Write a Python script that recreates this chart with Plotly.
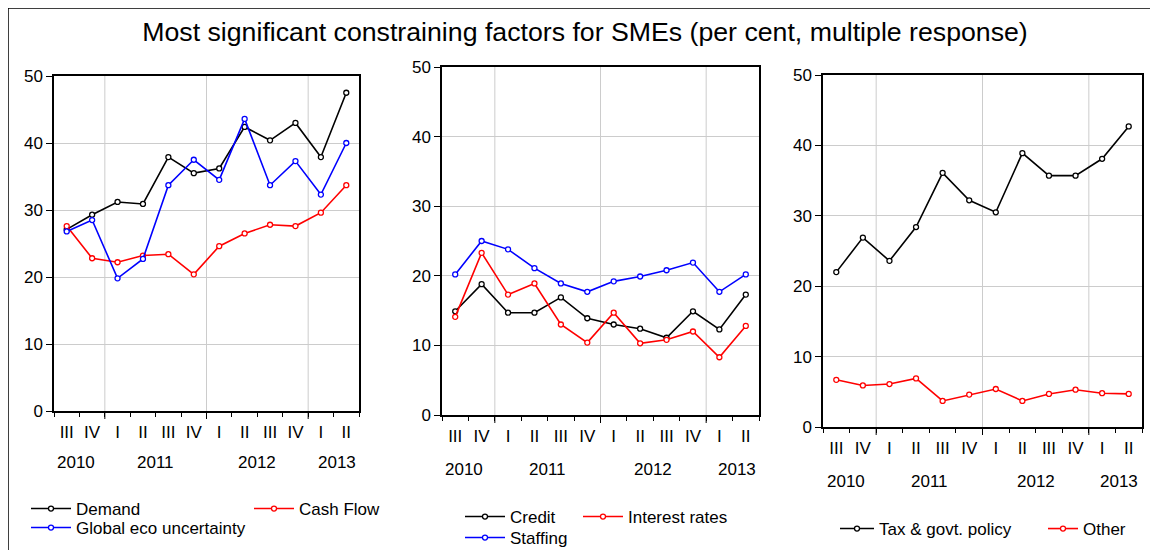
import plotly.graph_objects as go

QUARTERS = ["III", "IV", "I", "II", "III", "IV", "I", "II", "III", "IV", "I", "II"]
YEARS = ["2010", "2011", "2012", "2013"]
YEAR_POS = [0.35, 3.5, 7.5, 10.65]
YEAR_BREAKS = [1.5, 5.5, 9.5]

demand = [27.1, 29.3, 31.2, 30.9, 37.9, 35.5, 36.2, 42.4, 40.4, 43.0, 37.9, 47.5]
cash_flow = [27.6, 22.8, 22.2, 23.2, 23.4, 20.4, 24.6, 26.5, 27.8, 27.6, 29.6, 33.7]
global_eco = [26.8, 28.5, 19.8, 22.7, 33.7, 37.5, 34.5, 43.6, 33.7, 37.3, 32.3, 40.0]

credit = [14.9, 18.8, 14.7, 14.7, 16.9, 13.9, 13.0, 12.4, 11.1, 14.9, 12.3, 17.3]
interest_rates = [14.1, 23.3, 17.3, 18.9, 13.0, 10.4, 14.7, 10.3, 10.8, 12.0, 8.3, 12.8]
staffing = [20.2, 25.0, 23.8, 21.1, 18.9, 17.7, 19.2, 19.9, 20.8, 21.9, 17.7, 20.2]

tax_policy = [22.0, 26.9, 23.6, 28.4, 36.1, 32.2, 30.5, 38.9, 35.7, 35.7, 38.1, 42.7]
other = [6.7, 5.9, 6.1, 6.9, 3.7, 4.6, 5.4, 3.7, 4.7, 5.3, 4.8, 4.7]

# page body has an 8px margin, so the figure is sized to fit inside it
OFFSET = 8
W, H = 1158 - 2 * OFFSET, 550 - OFFSET
FONT = "Arial, Liberation Sans, sans-serif"
BLACK, RED, BLUE = "#000000", "#ff0000", "#0000ff"
GRID = "#cccccc"


def fx(sx):
    return (sx - OFFSET) / W


def fy(sy):
    return 1 - (sy - OFFSET) / H


# panel boxes in screen pixels: (left, right, top, bottom), plus label rows
PANELS = [(54, 359, 76, 411), (442, 759, 67, 415), (823, 1142, 75, 427)]
YEAR_ROW = [462, 469, 481]

# panel, name, values, colour, legend symbol position (screen px), symbol width
series = [
    (1, "Demand", demand, BLACK, (32, 509), 40),
    (1, "Cash Flow", cash_flow, RED, (255, 509), 40),
    (1, "Global eco uncertainty", global_eco, BLUE, (32, 528), 40),
    (2, "Credit", credit, BLACK, (466, 517), 40),
    (2, "Interest rates", interest_rates, RED, (584, 517), 40),
    (2, "Staffing", staffing, BLUE, (466, 538), 40),
    (3, "Tax & govt. policy", tax_policy, BLACK, (841, 529), 34),
    (3, "Other", other, RED, (1049, 529), 30),
]

fig = go.Figure()
x = list(range(len(QUARTERS)))
layout = {}
# one small legend per entry so each can sit exactly where the original has it
for n, (panel, name, vals, color, (lx, ly), iw) in enumerate(series, start=2):
    sfx = "" if panel == 1 else str(panel)
    leg = f"legend{n}"
    fig.add_trace(
        go.Scatter(
            x=x,
            y=vals,
            name=name,
            mode="lines+markers",
            line={"color": color, "width": 1.6},
            marker={"symbol": "circle", "size": 5, "color": "white",
                    "line": {"color": color, "width": 1.3}},
            xaxis="x" + sfx,
            yaxis="y" + sfx,
            legend=leg,
        )
    )
    layout[leg] = dict(orientation="h", xanchor="left", yanchor="middle",
                       x=fx(lx - 6), y=fy(ly), itemwidth=iw,
                       bgcolor="rgba(0,0,0,0)", font=dict(size=17, color=BLACK))

annotations = []
shapes = []
for i, (l, r, t, b) in enumerate(PANELS, start=1):
    sfx = "" if i == 1 else str(i)
    layout["xaxis" + sfx] = dict(
        domain=[fx(l), fx(r)], anchor="y" + sfx, range=[-0.5, 11.5],
        tickmode="array", tickvals=x, ticktext=QUARTERS, ticks="",
        ticklabelstandoff=5, tickfont=dict(size=17, color=BLACK),
        showgrid=False,
        minor=dict(tickmode="array", tickvals=[k - 0.5 for k in range(13)],
                   ticks="outside", ticklen=4, tickcolor=BLACK, showgrid=False),
        showline=True, linecolor=BLACK, linewidth=1.5, mirror=True, zeroline=False,
    )
    layout["yaxis" + sfx] = dict(
        domain=[fy(b), fy(t)], anchor="x" + sfx, range=[0, 50],
        tickmode="array", tickvals=[0, 10, 20, 30, 40, 50],
        ticks="outside", ticklen=6, tickcolor=BLACK,
        showgrid=True, gridcolor=GRID, gridwidth=1,
        showline=True, linecolor=BLACK, linewidth=1.5, mirror=True, zeroline=False,
        tickfont=dict(size=17, color=BLACK),
    )
    tick_frac = 8 / (b - t)
    for brk in YEAR_BREAKS:
        # vertical grid line and a longer tick at each year boundary
        shapes.append(dict(type="line", xref="x" + sfx, yref="y" + sfx + " domain",
                           x0=brk, x1=brk, y0=0, y1=1, layer="below",
                           line=dict(color=GRID, width=1)))
        shapes.append(dict(type="line", xref="x" + sfx, yref="y" + sfx + " domain",
                           x0=brk, x1=brk, y0=-tick_frac, y1=0,
                           line=dict(color=BLACK, width=1)))
    for yr, pos in zip(YEARS, YEAR_POS):
        annotations.append(dict(
            text=yr, x=pos, xref="x" + sfx, y=fy(YEAR_ROW[i - 1]), yref="paper",
            showarrow=False, xanchor="center", yanchor="middle",
            font=dict(size=17, color=BLACK),
        ))

# outer frame around the whole chart
shapes.append(dict(type="rect", xref="paper", yref="paper",
                   x0=fx(7.5), x1=1.05, y0=-0.05, y1=fy(7.5),
                   line=dict(color=BLACK, width=2.5)))

fig.update_layout(
    **layout,
    annotations=annotations,
    shapes=shapes,
    width=W,
    height=H,
    margin=dict(l=0, r=0, t=0, b=0, autoexpand=False),
    paper_bgcolor="white",
    plot_bgcolor="white",
    font=dict(family=FONT, color=BLACK),
    title=dict(
        text="Most significant constraining factors for SMEs (per cent, multiple response)",
        x=fx(585), xanchor="center", y=fy(32), yanchor="middle",
        font=dict(size=26.7, color=BLACK, family=FONT),
    ),
)

fig.write_html("out.html")
